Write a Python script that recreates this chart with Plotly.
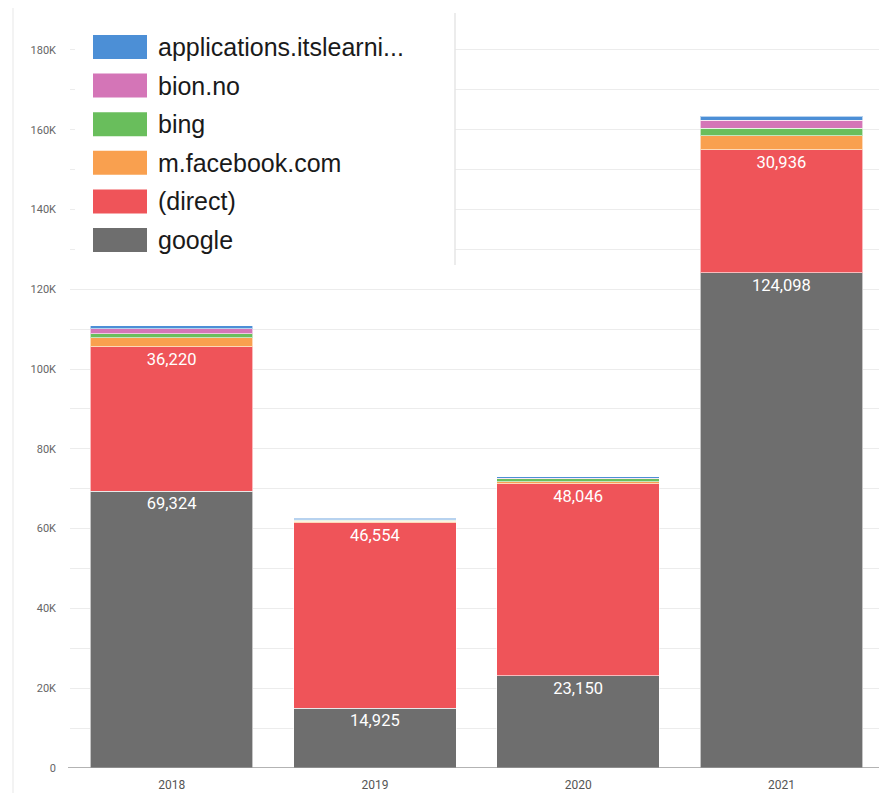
import plotly.graph_objects as go

# ---- data ----
years = ["2018", "2019", "2020", "2021"]
google = [69324, 14925, 23150, 124098]
direct = [36220, 46554, 48046, 30936]
facebook = [2250, 350, 500, 3500]
bing = [1000, 300, 800, 1800]
bion = [1250, 150, 150, 2000]
applications = [750, 300, 350, 1000]

series_names = ["google", "(direct)", "m.facebook.com", "bing", "bion.no", "applications.itslearni..."]
series_values = [google, direct, facebook, bing, bion, applications]
series_colors = ["#6e6e6e", "#ef5459", "#f9a04f", "#69be5c", "#d475b7", "#4c8fd6"]
labelled = [True, True, False, False, False, False]

y_tickvals = [0, 20000, 40000, 60000, 80000, 100000, 120000, 140000, 160000, 180000]
y_ticktext = ["0", "20K", "40K", "60K", "80K", "100K", "120K", "140K", "160K", "180K"]

# ---- layout geometry (reference pixels; page body has 8px margin) ----
OFF = 8
W, H = 887 - OFF, 793 - OFF
PL, PR, PT, PB = 70, 883, 10, 768  # plot area in reference pixel coords
L, R, T, B = PL - OFF, 887 - PR, PT - OFF, 793 - PB
pw, ph = PR - PL, PB - PT


def px(x):
    return (x - PL) / pw


def py(y):
    return (PB - y) / ph


fig = go.Figure()
for name, vals, col, lab in zip(series_names, series_values, series_colors, labelled):
    fig.add_trace(go.Bar(
        x=years, y=vals, name=name,
        marker=dict(color=col, line=dict(color="rgba(255,255,255,0.6)", width=1)),
        text=[f"{v:,}" for v in vals] if lab else None,
        textposition="inside" if lab else "none",
        insidetextanchor="end",
        textangle=0,
        textfont=dict(color="white", size=16.5, family="Roboto"),
        constraintext="none",
        showlegend=False,
    ))

shapes = []
annotations = []
# legend background box
shapes.append(dict(type="rect", xref="paper", yref="paper",
                   x0=px(75), x1=px(455), y0=py(265), y1=py(13),
                   fillcolor="white", line=dict(width=0), layer="above"))
shapes.append(dict(type="line", xref="paper", yref="paper",
                   x0=px(455), x1=px(455), y0=py(265), y1=py(13),
                   line=dict(color="#e6e6e6", width=1.5), layer="above"))
shapes.append(dict(type="line", xref="paper", yref="paper",
                   x0=px(13), x1=px(13), y0=py(793), y1=py(8),
                   line=dict(color="#efefef", width=1.5), layer="above"))
# baseline
shapes.append(dict(type="line", xref="paper", yref="y",
                   x0=px(68), x1=1, y0=0, y1=0,
                   line=dict(color="#9a9a9a", width=1.5), layer="above"))

# custom legend (top to bottom, reverse of stacking order)
row0, step = 47, 38.6
for i, (name, col) in enumerate(zip(series_names[::-1], series_colors[::-1])):
    cy = row0 + i * step
    shapes.append(dict(type="rect", xref="paper", yref="paper",
                       x0=px(93), x1=px(147), y0=py(cy + 12), y1=py(cy - 12),
                       fillcolor=col, line=dict(width=0), layer="above"))
    annotations.append(dict(xref="paper", yref="paper", x=px(156), y=py(cy),
                            xanchor="left", yanchor="middle", showarrow=False,
                            text=name, font=dict(size=25, color="#1a1a1a", family="Liberation Sans")))

fig.update_layout(
    width=W, height=H,
    margin=dict(l=L, r=R, t=T, b=B),
    barmode="stack", bargap=0.2,
    plot_bgcolor="white", paper_bgcolor="white",
    font=dict(family="Roboto", color="#555555"),
    shapes=shapes, annotations=annotations,
    showlegend=False,
)
fig.update_yaxes(
    range=[0, 190000], tickvals=y_tickvals, ticktext=y_ticktext,
    showgrid=True, gridcolor="#ececec", gridwidth=1,
    minor=dict(dtick=10000, showgrid=True, gridcolor="#ececec", gridwidth=1),
    zeroline=False, tickfont=dict(size=11, color="#666666"), ticks="",
    ticklabelstandoff=13,
)
fig.update_xaxes(showgrid=False, zeroline=False, showline=False,
                 tickfont=dict(size=12, color="#555555"), ticks="",
                 ticklabelstandoff=8)

fig.write_html("out.html")
